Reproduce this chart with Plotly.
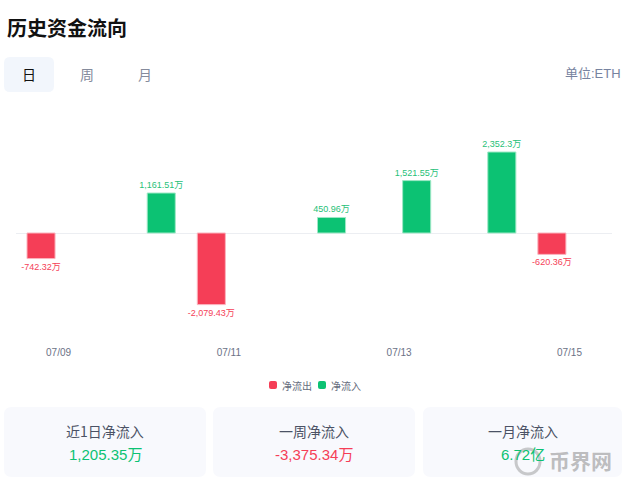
import plotly.graph_objects as go

# ---- data ----
dates = ["07/09", "07/10", "07/11", "07/12", "07/13", "07/14", "07/15"]
outflow = [-742.32, None, -2079.43, None, None, None, -620.36]   # 万
inflow = [None, 1161.51, None, 450.96, 1521.55, 2352.3, None]    # 万
tick_dates = ["07/09", "07/11", "07/13", "07/15"]
series_names = ["净流出", "净流入"]
card_labels = ["近1日净流入", "一周净流入", "一月净流入"]
card_values = ["1,205.35万", "-3,375.34万", "6.72亿"]
card_signs = [1, -1, 1]

RED = "#f53e57"
GREEN = "#0cc273"
CJK = "Noto Sans CJK SC"
NUM = "Liberation Sans, Arial, " + CJK

W, H = 624, 488
ML, MR, MT, MB = 16, 12, 115, 148
PW, PH = W - ML - MR, H - MT - MB


def X(x):
    return (x - ML) / PW


def Y(y):
    return (H - MB - y) / PH


def rrect(x0, y0, x1, y1, r):
    return (f"M {X(x0+r)},{Y(y0)} L {X(x1-r)},{Y(y0)} Q {X(x1)},{Y(y0)} {X(x1)},{Y(y0+r)} "
            f"L {X(x1)},{Y(y1-r)} Q {X(x1)},{Y(y1)} {X(x1-r)},{Y(y1)} "
            f"L {X(x0+r)},{Y(y1)} Q {X(x0)},{Y(y1)} {X(x0)},{Y(y1-r)} "
            f"L {X(x0)},{Y(y0+r)} Q {X(x0)},{Y(y0)} {X(x0+r)},{Y(y0)} Z")


def fmt(v):
    return "" if v is None else f"{v:,}万"


fig = go.Figure()
fig.add_trace(go.Bar(
    name=series_names[0], x=dates, y=outflow, text=[fmt(v) for v in outflow],
    textposition="outside", cliponaxis=False, constraintext="none",
    textfont=dict(size=9, color=RED, family=NUM),
    marker=dict(color=RED, line=dict(color="#fbb3bd", width=1)),
    hoverinfo="skip", showlegend=False,
))
fig.add_trace(go.Bar(
    name=series_names[1], x=dates, y=inflow, text=[fmt(v) for v in inflow],
    textposition="outside", cliponaxis=False, constraintext="none",
    textfont=dict(size=9, color="#1fbf78", family=NUM),
    marker=dict(color=GREEN, line=dict(color="#9ee8c6", width=1)),
    hoverinfo="skip", showlegend=False,
))

shapes = [
    dict(type="path", xref="paper", yref="paper", path=rrect(4, 57, 54, 92, 6),
         fillcolor="#f2f6fc", line=dict(width=0), layer="below"),
]
card_boxes = [(4, 206), (213, 415), (423, 622)]
for (a, b) in card_boxes:
    shapes.append(dict(type="path", xref="paper", yref="paper", path=rrect(a, 407, b, 477, 8),
                       fillcolor="#f8f9fd", line=dict(width=0), layer="below"))

ann = [
    dict(text="<b>历史资金流向</b>", x=X(5), y=Y(28), xanchor="left", yanchor="middle",
         font=dict(size=20, color="#111111", family=CJK)),
    dict(text="日", x=X(29), y=Y(74), xanchor="center", yanchor="middle",
         font=dict(size=14, color="#111111", family=CJK)),
    dict(text="周", x=X(87), y=Y(74), xanchor="center", yanchor="middle",
         font=dict(size=14, color="#858b9c", family=CJK)),
    dict(text="月", x=X(145), y=Y(74), xanchor="center", yanchor="middle",
         font=dict(size=14, color="#858b9c", family=CJK)),
    dict(text="单位:ETH", x=X(623), y=Y(74), xanchor="right", yanchor="middle",
         font=dict(size=13, color="#7783a0", family=NUM)),
]

# custom compact legend
legend_items = [(269, RED), (318, GREEN)]
for (lx, col), name in zip(legend_items, series_names):
    shapes.append(dict(type="path", xref="paper", yref="paper", path=rrect(lx, 381, lx + 8, 389, 2),
                       fillcolor=col, line=dict(width=0)))
    ann.append(dict(text=name, x=X(lx + 11), y=Y(385), xanchor="left", yanchor="middle",
                    font=dict(size=10, color="#666c7c", family=CJK)))

for (a, b), lab, val, s in zip(card_boxes, card_labels, card_values, card_signs):
    cx = (a + b) / 2
    ann.append(dict(text=lab, x=X(cx), y=Y(431), xanchor="center", yanchor="middle",
                    font=dict(size=14, color="#4b5265", family=CJK)))
    ann.append(dict(text=val, x=X(cx), y=Y(454), xanchor="center", yanchor="middle",
                    font=dict(size=15, color=GREEN if s > 0 else RED, family=NUM)))

# watermark
shapes.append(dict(type="circle", xref="paper", yref="paper",
                   x0=X(516), x1=X(540), y0=Y(449), y1=Y(474),
                   line=dict(color="rgba(140,140,140,0.45)", width=3)))
ann.append(dict(text="<b>币界网</b>", x=X(580), y=Y(460), xanchor="center", yanchor="middle",
                font=dict(size=21, color="rgba(130,130,130,0.5)", family=CJK)))

for a in ann:
    a.update(xref="paper", yref="paper", showarrow=False)

fig.update_layout(
    width=W, height=H, margin=dict(l=ML, r=MR, t=MT, b=MB),
    paper_bgcolor="white", plot_bgcolor="white",
    barmode="group", bargap=0.176, bargroupgap=0.2,
    showlegend=False,
    xaxis=dict(type="category", categoryorder="array", categoryarray=dates,
               range=[-0.5, 6.5], tickvals=tick_dates, ticktext=tick_dates,
               showgrid=False, zeroline=False, showline=False, ticks="",
               ticklabelstandoff=5,
               tickfont=dict(size=10, color="#6b7286", family=NUM)),
    yaxis=dict(range=[-3107, 3427], showgrid=False, zeroline=True,
               zerolinecolor="#eceef2", zerolinewidth=1, showticklabels=False,
               fixedrange=True),
    shapes=shapes, annotations=ann,
    font=dict(family=CJK),
)

fig.write_html("out.html", config={"displayModeBar": False},
               post_script="document.body.style.margin='0';")
